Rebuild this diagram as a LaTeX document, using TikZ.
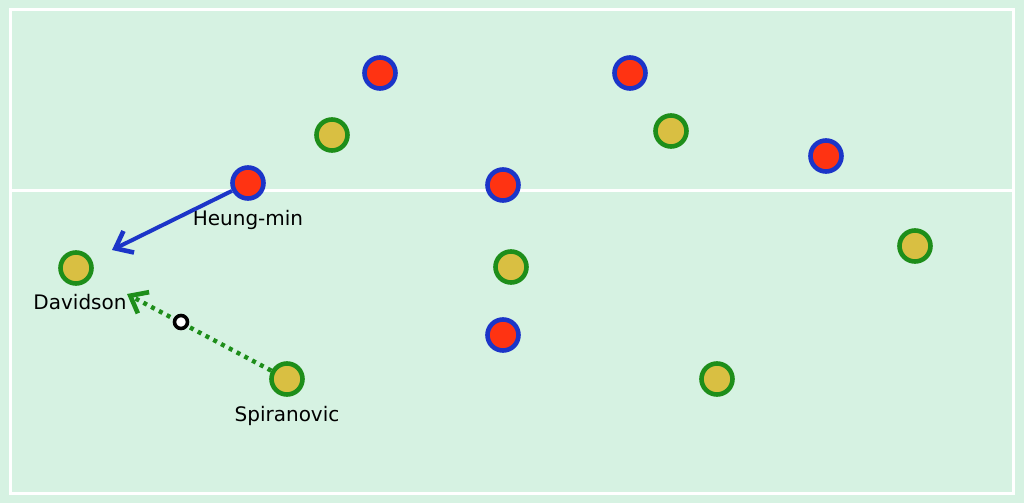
\documentclass[tikz,border=0pt]{standalone}
\usepackage{fontspec}
\setmainfont{DejaVu Sans}
\usetikzlibrary{arrows.meta}
\definecolor{pitch}{HTML}{D6F2E2}
\definecolor{homefill}{HTML}{FF3312}
\definecolor{homeline}{HTML}{1C35C8}
\definecolor{awayfill}{HTML}{D9BF42}
\definecolor{awayline}{HTML}{1E8E1A}
\tikzset{home/.style={circle, draw=homeline, fill=homefill, line width=2.3pt, minimum size=15.5pt, inner sep=0pt},
         away/.style={circle, draw=awayline, fill=awayfill, line width=2.3pt, minimum size=15.5pt, inner sep=0pt},
         ball/.style={circle, draw=black, fill=white, line width=1.8pt, minimum size=6.5pt, inner sep=0pt},
         playername/.style={font=\fontsize{10}{12}\selectfont, inner sep=1pt}}

\begin{document}
\begin{tikzpicture}[x=0.5pt, y=-0.5pt]
  \useasboundingbox (0,0) rectangle (1024,503);
  \fill[pitch] (0,0) rectangle (1024,503);
  \draw[white, line width=1.5pt] (10,9) rectangle (1013,493);
  \draw[white, line width=1.5pt] (10,190) -- (1013,190);

  \node[home] (h1) at (380, 73) {};
  \node[home] (h2) at (630, 73) {};
  \node[home] (hm) at (248,183) {};
  \node[home] (h4) at (503,185) {};
  \node[home] (h5) at (826,156) {};
  \node[home] (h6) at (503,335) {};

  \node[away] (a1) at (332,135) {};
  \node[away] (a2) at (671,131) {};
  \node[away] (dv) at ( 76,268) {};
  \node[away] (a4) at (511,267) {};
  \node[away] (a5) at (915,246) {};
  \node[away] (sp) at (287,379) {};
  \node[away] (a7) at (717,379) {};

  \node[playername] (hmname) at (248,220) {Heung-min};
  \node[playername] (dvname) at ( 80,302) {Davidson};
  \node[playername] (spname) at (287,416) {Spiranovic};

  \coordinate (hmend) at (112,250);
  \coordinate (spend) at (127,294);

  \draw[homeline, line width=2pt, -{Straight Barb[length=7.5pt, width=12pt, line width=2.3pt]}] (hm) -- (hmend);
  \draw[awayline, line width=2.2pt, dash pattern=on 2pt off 2.4pt, -{Straight Barb[length=7.5pt, width=12pt, line width=2.3pt]}] (sp) -- (spend);

  \node[ball] (b) at (181,322) {};
\end{tikzpicture}
\end{document}
